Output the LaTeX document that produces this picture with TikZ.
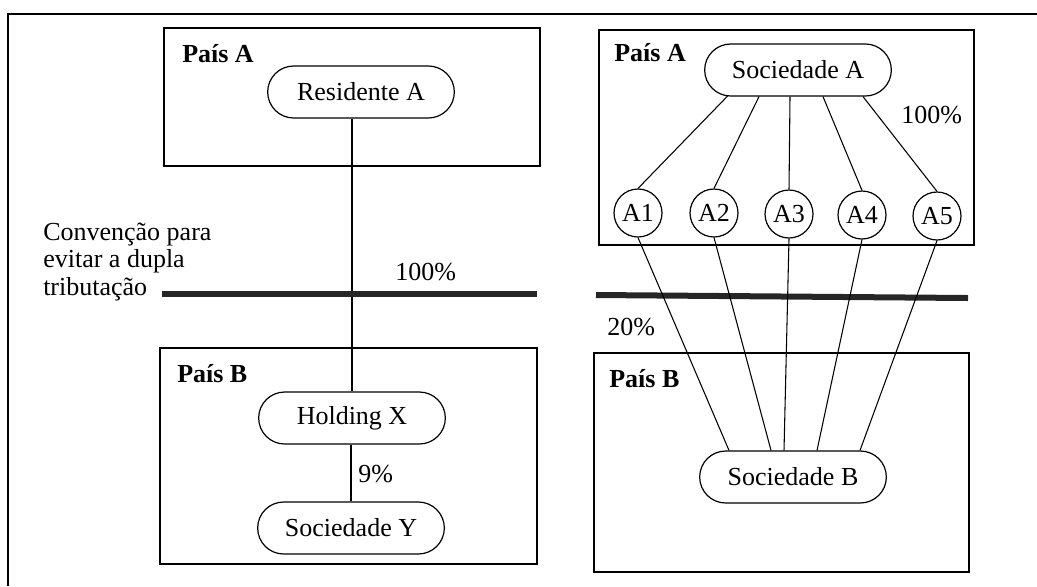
\documentclass[tikz,border=0pt]{standalone}
\usepackage{fontspec}
\setmainfont{Liberation Serif}
\usetikzlibrary{shapes.misc,calc}
\begin{document}
\begin{tikzpicture}[x=0.75pt,y=-0.75pt,
  every node/.style={font=\fontsize{19.5}{20}\selectfont, inner sep=0pt},
  stad/.style={draw, line width=0.9pt, rounded rectangle, minimum width=140pt, minimum height=39pt, inner xsep=0pt},
  circ/.style={draw, line width=0.9pt, circle, minimum size=36pt},
  boxframe/.style={draw, line width=1pt},
  conn/.style={line width=0.8pt},
  treaty/.style={line width=4.5pt, draw=black!85},
  frame/.style={line width=1.6pt},
  country/.style={font=\fontsize{19.5}{20}\selectfont\bfseries, anchor=base west},
  pct/.style={anchor=base west}]
\useasboundingbox (0,0) rectangle (1037,586);

% outer frame (top and left edges)
\draw[frame] (1037,14) -- (8,14) -- (8,586);

% ---------- left side ----------
\draw[boxframe] (164,28) rectangle (540,166);
\draw[boxframe] (160,348) rectangle (537,564);
\node[country] (pAl) at (182,62) {País A};
\node[country] (pBl) at (177,382) {País B};

\node[stad] (RA) at (361,92) {Residente A};
\node[stad] (HX) at (352,418) {Holding X};
\node[stad] (SY) at (351,528) {Sociedade Y};

\draw[conn] (HX.north |- RA.south) -- (HX.north);
\draw[conn] ($(HX.south)+(-1,0)$) -- ($(SY.north)+(0,0)$);

\node[pct] (p100l) at (395,280) {100\%};
\node[pct] (p9) at (358,482) {9\%};

\node[anchor=base west, align=left, font=\fontsize{19.5}{20.5}\selectfont] (conv) at (43,295)
  {Convenção para\\evitar a dupla\\tributação};

\coordinate (tl1) at (162,294);
\coordinate (tl2) at (537,294);
\coordinate (tr1) at (596,295);
\coordinate (tr2) at (968,298);
\draw[treaty] (tl1) -- (tl2);
\draw[treaty] (tr1) -- (tr2);

% ---------- right side ----------
\draw[boxframe] (599,30) rectangle (974,245);
\draw[boxframe] (594,353) rectangle (969,572);
\node[country] (pAr) at (614,61) {País A};
\node[country] (pBr) at (609,387) {País B};

\node[stad] (SA) at (798,70) {Sociedade A};
\node[stad] (SB) at (793,477) {Sociedade B};

\node[circ] (A1) at (638,213) {A1};
\node[circ] (A2) at (714,213) {A2};
\node[circ] (A3) at (789,214) {A3};
\node[circ] (A4) at (862,215) {A4};
\node[circ] (A5) at (937,216) {A5};

\draw[conn] ($(SA.south)+(-70,-1)$) -- (A1.north);
\draw[conn] ($(SA.south)+(-39,0)$) -- (A2.north);
\draw[conn] ($(SA.south)+(-8,0)$) -- (A3.north);
\draw[conn] ($(SA.south)+(25,0)$) -- (A4.north);
\draw[conn] ($(SA.south)+(65,0)$) -- (A5.north);

\draw[conn] (A1.south) -- ($(SB.north)+(-64,0)$);
\draw[conn] (A2.south) -- ($(SB.north)+(-22,0)$);
\draw[conn] (A3.south) -- ($(SB.north)+(-9,0)$);
\draw[conn] (A4.south) -- ($(SB.north)+(24,0)$);
\draw[conn] (A5.south) -- ($(SB.north)+(67,0)$);

\node[pct] (p100r) at (901,123) {100\%};
\node[pct] (p20) at (607,335) {20\%};
\end{tikzpicture}
\end{document}
